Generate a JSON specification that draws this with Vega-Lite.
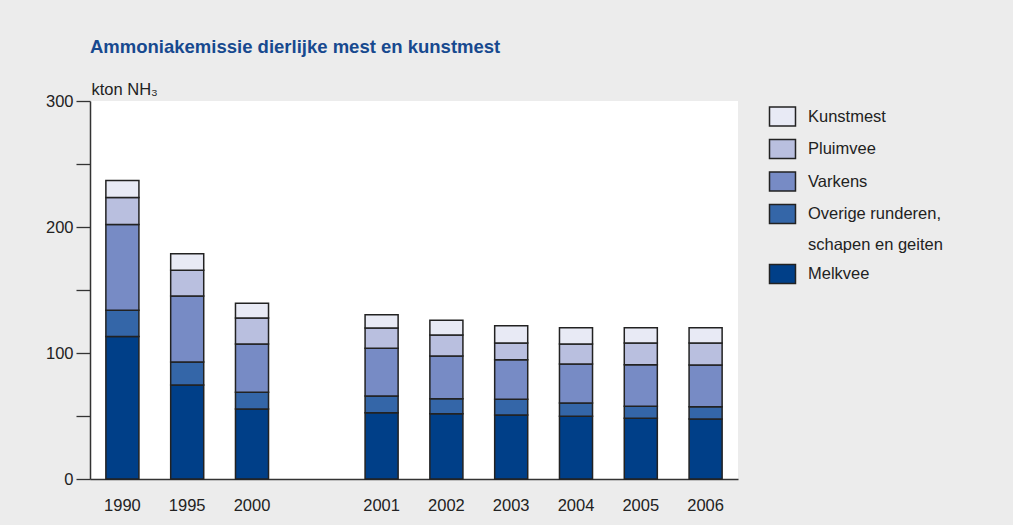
{
  "$schema": "https://vega.github.io/schema/vega-lite/v6.json",
  "width": 648,
  "height": 378,
  "autosize": {"type": "none"},
  "padding": {"left": 90, "top": 101, "right": 275, "bottom": 46},
  "background": "#ececec",
  "config": {
    "view": {"fill": "white", "stroke": null},
    "font": "Liberation Sans"
  },
  "title": {
    "text": "Ammoniakemissie dierlijke mest en kunstmest",
    "anchor": "start",
    "frame": "group",
    "color": "#17498f",
    "fontSize": 18.5,
    "fontWeight": "bold",
    "font": "Liberation Sans",
    "offset": 25
  },
  "data": {
    "values": [
      {"year": "1990", "component": "Melkvee", "value": 113},
      {"year": "1990", "component": "Overige runderen, schapen en geiten", "value": 21},
      {"year": "1990", "component": "Varkens", "value": 68},
      {"year": "1990", "component": "Pluimvee", "value": 21.5},
      {"year": "1990", "component": "Kunstmest", "value": 13.5},
      {"year": "1995", "component": "Melkvee", "value": 74.6},
      {"year": "1995", "component": "Overige runderen, schapen en geiten", "value": 18.3},
      {"year": "1995", "component": "Varkens", "value": 52.3},
      {"year": "1995", "component": "Pluimvee", "value": 20.4},
      {"year": "1995", "component": "Kunstmest", "value": 13.2},
      {"year": "2000", "component": "Melkvee", "value": 55.6},
      {"year": "2000", "component": "Overige runderen, schapen en geiten", "value": 13.2},
      {"year": "2000", "component": "Varkens", "value": 38.3},
      {"year": "2000", "component": "Pluimvee", "value": 20.7},
      {"year": "2000", "component": "Kunstmest", "value": 11.6},
      {"year": "2001", "component": "Melkvee", "value": 52.6},
      {"year": "2001", "component": "Overige runderen, schapen en geiten", "value": 13.3},
      {"year": "2001", "component": "Varkens", "value": 37.8},
      {"year": "2001", "component": "Pluimvee", "value": 16.1},
      {"year": "2001", "component": "Kunstmest", "value": 10.6},
      {"year": "2002", "component": "Melkvee", "value": 51.8},
      {"year": "2002", "component": "Overige runderen, schapen en geiten", "value": 11.9},
      {"year": "2002", "component": "Varkens", "value": 33.9},
      {"year": "2002", "component": "Pluimvee", "value": 16.7},
      {"year": "2002", "component": "Kunstmest", "value": 11.6},
      {"year": "2003", "component": "Melkvee", "value": 50.8},
      {"year": "2003", "component": "Overige runderen, schapen en geiten", "value": 12.5},
      {"year": "2003", "component": "Varkens", "value": 31.4},
      {"year": "2003", "component": "Pluimvee", "value": 13.2},
      {"year": "2003", "component": "Kunstmest", "value": 13.8},
      {"year": "2004", "component": "Melkvee", "value": 49.8},
      {"year": "2004", "component": "Overige runderen, schapen en geiten", "value": 10.5},
      {"year": "2004", "component": "Varkens", "value": 31.0},
      {"year": "2004", "component": "Pluimvee", "value": 15.8},
      {"year": "2004", "component": "Kunstmest", "value": 13.0},
      {"year": "2005", "component": "Melkvee", "value": 48.2},
      {"year": "2005", "component": "Overige runderen, schapen en geiten", "value": 9.5},
      {"year": "2005", "component": "Varkens", "value": 33.0},
      {"year": "2005", "component": "Pluimvee", "value": 17.2},
      {"year": "2005", "component": "Kunstmest", "value": 12.2},
      {"year": "2006", "component": "Melkvee", "value": 47.6},
      {"year": "2006", "component": "Overige runderen, schapen en geiten", "value": 9.8},
      {"year": "2006", "component": "Varkens", "value": 33.1},
      {"year": "2006", "component": "Pluimvee", "value": 17.4},
      {"year": "2006", "component": "Kunstmest", "value": 12.2}
    ]
  },
  "transform": [
    {
      "calculate": "indexof(['Melkvee', 'Overige runderen, schapen en geiten', 'Varkens', 'Pluimvee', 'Kunstmest'], datum.component)",
      "as": "stackOrder"
    }
  ],
  "mark": {"type": "bar", "stroke": "#222222", "strokeWidth": 1.5},
  "encoding": {
    "x": {
      "field": "year",
      "type": "nominal",
      "scale": {
        "domain": ["1990", "1995", "2000", "gap", "2001", "2002", "2003", "2004", "2005", "2006"],
        "paddingInner": 0.49,
        "paddingOuter": 0.245
      },
      "axis": {
        "title": null,
        "labelAngle": 0,
        "labelExpr": "datum.value == 'gap' ? '' : datum.label",
        "ticks": false,
        "tickSize": 0,
        "labelPadding": 18,
        "labelFontSize": 16.5,
        "labelColor": "#222222",
        "domainColor": "#333333",
        "domainWidth": 1.5
      }
    },
    "y": {
      "field": "value",
      "type": "quantitative",
      "stack": "zero",
      "scale": {"domain": [0, 300], "nice": false},
      "axis": {
        "values": [0, 50, 100, 150, 200, 250, 300],
        "labelExpr": "datum.value % 100 ? '' : datum.label",
        "grid": false,
        "tickSize": 14,
        "tickColor": "#333333",
        "tickWidth": 1.3,
        "labelPadding": 3,
        "labelFontSize": 16.5,
        "labelColor": "#222222",
        "domainColor": "#333333",
        "domainWidth": 1.5,
        "title": "kton NH₃",
        "titleAngle": 0,
        "titleAlign": "left",
        "titleBaseline": "alphabetic",
        "titleX": 1,
        "titleY": -7,
        "titleFontSize": 16.5,
        "titleFontWeight": "normal",
        "titleColor": "#222222",
        "encode": {
          "ticks": {
            "update": {
              "x": {"signal": "datum.value % 100 ? -3 : 0"},
              "x2": {"signal": "datum.value % 100 ? -9 : -14"}
            }
          }
        }
      }
    },
    "order": {"field": "stackOrder", "type": "quantitative", "sort": "ascending"},
    "color": {
      "field": "component",
      "type": "nominal",
      "scale": {
        "domain": ["Kunstmest", "Pluimvee", "Varkens", "Overige runderen, schapen en geiten", "schapen en geiten", "Melkvee"],
        "range": ["#e8eaf5", "#b9bfdf", "#778bc5", "#3466a8", "#ececec", "#003f88"]
      },
      "legend": {
        "orient": "none",
        "legendX": 682,
        "legendY": 5,
        "title": null,
        "padding": 0,
        "symbolType": "M-1.368,-1L1.368,-1L1.368,1L-1.368,1Z",
        "symbolSize": 361,
        "symbolStrokeColor": "#222222",
        "symbolStrokeWidth": 1.5,
        "symbolOpacity": 1,
        "labelFontSize": 16.5,
        "labelColor": "#222222",
        "labelOffset": 15,
        "rowPadding": 7.5,
        "labelLimit": 250,
        "labelExpr": "datum.value == 'Overige runderen, schapen en geiten' ? 'Overige runderen,' : datum.label",
        "encode": {
          "symbols": {
            "update": {
              "opacity": {"signal": "datum.value === 'schapen en geiten' ? 0 : 1"}
            }
          }
        }
      }
    }
  }
}
